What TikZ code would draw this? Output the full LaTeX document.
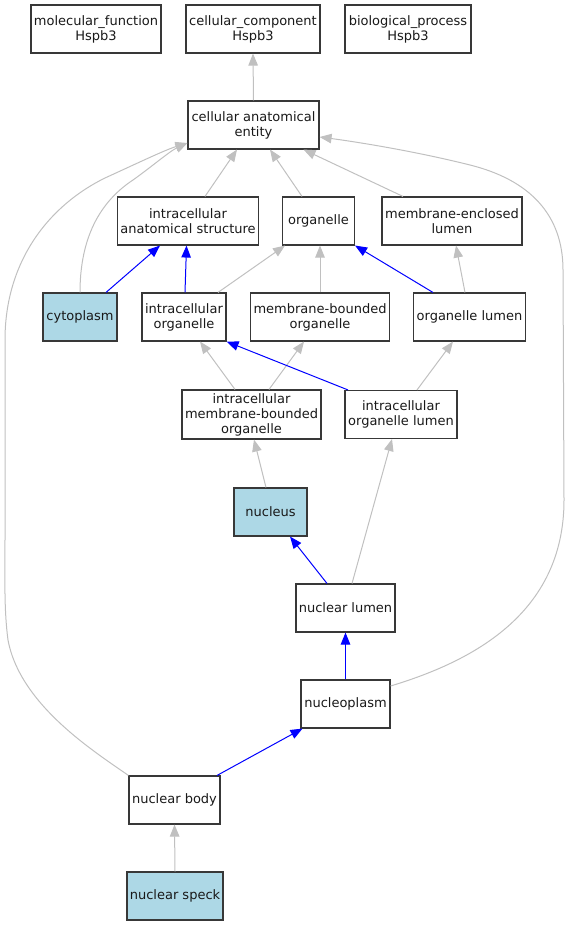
\documentclass[tikz,border=0pt]{standalone}
\usepackage{fontspec}
\newfontfamily\gvfont{DejaVu Sans}
\usetikzlibrary{arrows.meta}
\definecolor{edgegray}{HTML}{C0C0C0}
\definecolor{lblue}{HTML}{ADD8E6}
\definecolor{bordergray}{HTML}{383838}
\tikzset{
  gobox/.style={draw=bordergray, line width=1.1pt, fill=white, inner sep=0pt,
    minimum height=48pt, align=center, text=black!90,
    font=\gvfont\fontsize{13}{15}\selectfont},
  hl/.style={fill=lblue},
  gedge/.style={draw=edgegray, line width=1pt, -{Triangle[length=12pt,width=9.5pt]}},
  bedge/.style={draw=blue, line width=1pt, -{Triangle[length=12pt,width=9.5pt]}},
}
\begin{document}
\begin{tikzpicture}[x=1pt,y=-1pt]
\path[use as bounding box] (0,0) rectangle (570,925);
% nodes
\node[gobox, minimum width=130pt] (mf) at (96,29) {molecular\_function\\Hspb3};
\node[gobox, minimum width=134pt] (cc) at (253,29) {cellular\_component\\Hspb3};
\node[gobox, minimum width=126pt] (bp) at (408,29) {biological\_process\\Hspb3};
\node[gobox, minimum width=131pt] (cae) at (253.5,125) {cellular anatomical\\entity};
\node[gobox, minimum width=141pt] (ias) at (188,221) {intracellular\\anatomical structure};
\node[gobox, minimum width=72pt] (org) at (318.5,221) {organelle};
\node[gobox, minimum width=140pt] (mel) at (452,221) {membrane-enclosed\\lumen};
\node[gobox, hl, minimum width=74pt] (cyt) at (80,317) {cytoplasm};
\node[gobox, minimum width=84pt] (io) at (184,317) {intracellular\\organelle};
\node[gobox, minimum width=139pt] (mbo) at (320,317) {membrane-bounded\\organelle};
\node[gobox, minimum width=112pt] (ol) at (469.5,317) {organelle lumen};
\node[gobox, minimum width=139pt, minimum height=49pt] (imbo) at (251.5,414.5) {intracellular\\membrane-bounded\\organelle};
\node[gobox, minimum width=112pt] (iol) at (401,414.5) {intracellular\\organelle lumen};
\node[gobox, hl, minimum width=73pt] (nuc) at (270.5,512) {nucleus};
\node[gobox, minimum width=99pt] (nl) at (345.5,608) {nuclear lumen};
\node[gobox, minimum width=89pt] (np) at (345.5,704) {nucleoplasm};
\node[gobox, minimum width=91pt] (nb) at (174.5,800) {nuclear body};
\node[gobox, hl, minimum width=96pt] (ns) at (175,896) {nuclear speck};
% gray edges
\draw[gedge] (cae.north) -- (cc.south);
\draw[gedge] ([xshift=17pt]ias.north) -- ([xshift=-16.5pt]cae.south);
\draw[gedge] ([xshift=-16.5pt]org.north) -- ([xshift=16.5pt]cae.south);
\draw[gedge] ([xshift=-49pt]mel.north) -- ([xshift=50pt]cae.south);
\draw[gedge] (cyt.north) .. controls (80,245) and (95,205) .. (133,180)
  .. controls (150,168) and (170,151) .. ([yshift=-18pt]cae.west);
\draw[gedge] (nb.north west) .. controls (95,752) and (20,705) .. (8,640)
  .. controls (4,610) and (5,580) .. (5,540) -- (5,340)
  .. controls (5,260) and (50,205) .. (105,178)
  .. controls (140,162) and (165,150) .. ([yshift=-18pt]cae.west);
\draw[gedge] ([yshift=18pt]np.east) .. controls (470,662) and (564,615) .. (564,500)
  -- (563,270) .. controls (563,215) and (530,180) .. (470,165)
  .. controls (410,150) and (350,141) .. ([yshift=-12pt]cae.east);
\draw[gedge] ([xshift=34pt]io.north) -- ([xshift=-33.5pt]org.south);
\draw[gedge] (mbo.north) -- ([xshift=1.5pt]org.south);
\draw[gedge] ([xshift=-4.5pt]ol.north) -- ([xshift=4pt]mel.south);
\draw[gedge] ([xshift=-16.5pt]imbo.north) -- ([xshift=16pt]io.south);
\draw[gedge] ([xshift=17.5pt]imbo.north) -- ([xshift=-16pt]mbo.south);
\draw[gedge] ([xshift=16pt]iol.north) -- ([xshift=-16.5pt]ol.south);
\draw[gedge] ([xshift=-4.5pt]nuc.north) -- ([xshift=2.5pt]imbo.south);
\draw[gedge] ([xshift=6.5pt]nl.north) -- ([xshift=-9pt]iol.south);
\draw[gedge] (ns.north) -- (nb.south);
% blue edges
\draw[bedge] ([xshift=26pt]cyt.north) -- ([xshift=-28pt]ias.south);
\draw[bedge] ([xshift=1pt]io.north) -- ([xshift=-1.5pt]ias.south);
\draw[bedge] ([xshift=-36.5pt]ol.north) -- (org.south east);
\draw[bedge] ([xshift=-53pt]iol.north) -- (io.south east);
\draw[bedge] ([xshift=-18.5pt]nl.north) -- ([xshift=19.5pt]nuc.south);
\draw[bedge] (np.north) -- (nl.south);
\draw[bedge] ([xshift=42.5pt]nb.north) -- ([xshift=-43pt]np.south);
\end{tikzpicture}
\end{document}
